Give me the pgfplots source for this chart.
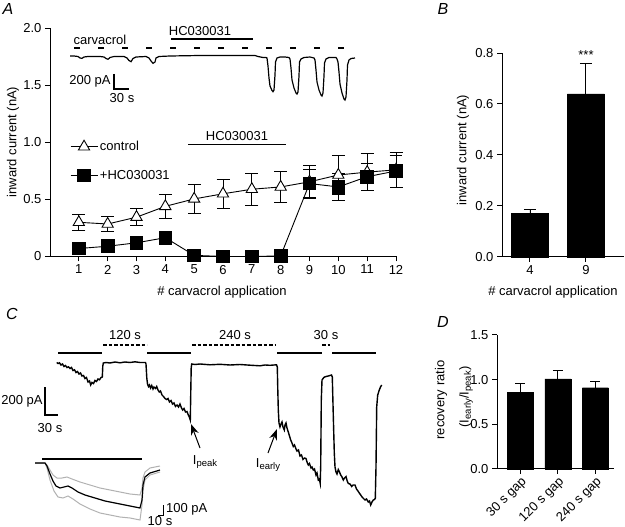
\documentclass[border=0pt]{standalone}
\usepackage{fontspec}
\setmainfont{Liberation Sans}
\usepackage{pgfplots}
\pgfplotsset{compat=1.18}
\usetikzlibrary{arrows.meta}
\newcommand{\fs}{\fontsize{13}{15}\selectfont}
\newcommand{\sub}[1]{\raisebox{-0.35ex}{\fontsize{9.5}{10}\selectfont #1}}
\begin{document}
\begin{tikzpicture}
\pgfplotsset{
 panel/.style={scale only axis, axis x line*=bottom, axis y line*=left, tick align=outside,
   major tick length=5pt, axis line style={line width=1pt, -}, every tick/.style={black, line width=1pt},
   tick label style={font=\fs}, clip=false},
}
\tikzset{lab/.style={font=\fs, inner sep=0pt}}
% ---------------- Panel A ----------------
\begin{axis}[panel, at={(50pt,270.5pt)}, anchor=south west, width=346pt, height=228pt,
  xmin=0, xmax=12, ymin=0, ymax=2,
  xtick={1,2,3,4,5,6,7,8,9,10,11,12}, xticklabels={1,2,3,4,5,6,7,8,9,10,11,12},
  ytick={0,0.5,1,1.5,2}, yticklabels={0,0.5,1.0,1.5,2.0},
  legend style={at={(axis cs:0.69,1.03)}, anchor=north west, draw=none, fill=none, font=\fs,
    row sep=14pt, inner sep=0pt, cells={anchor=west}},
  legend image code/.code={\draw[mark repeat=2,mark phase=2] plot coordinates {(0pt,0pt) (13.5pt,0pt) (27pt,0pt)};}]
\addplot[black, line width=0.9pt, mark=triangle*, mark size=6.5pt, mark options={fill=white, line width=0.9pt},
  error bars/.cd, y dir=both, y explicit, error mark options={rotate=90, mark size=6.5pt, line width=0.9pt},
  error bar style={line width=0.9pt}]
 coordinates {(1,0.30) +- (0,0.07) (2,0.285) +- (0,0.065) (3,0.345) +- (0,0.075) (4,0.44) +- (0,0.105)
  (5,0.505) +- (0,0.13) (6,0.55) +- (0,0.13) (7,0.59) +- (0,0.14) (8,0.61) +- (0,0.14)
  (9,0.655) +- (0,0.145) (10,0.715) +- (0,0.17) (11,0.74) +- (0,0.16) (12,0.76) +- (0,0.15)};
\addlegendentry{control}
\addplot[black, line width=0.9pt, mark=square*, mark size=6.3pt, mark options={fill=black},
  error bars/.cd, y dir=both, y explicit, error mark options={rotate=90, mark size=6.3pt, line width=0.9pt},
  error bar style={line width=0.9pt}]
 coordinates {(1,0.07) +- (0,0.02) (2,0.09) +- (0,0.02) (3,0.12) +- (0,0.03) (4,0.165) +- (0,0.03)
  (5,0.01) +- (0,0.005) (6,0.0) +- (0,0) (7,0.0) +- (0,0) (8,0.005) +- (0,0)
  (9,0.64) +- (0,0.12) (10,0.61) +- (0,0.115) (11,0.70) +- (0,0.12) (12,0.75) +- (0,0.14)};
\addlegendentry{+HC030031}
\draw[line width=1pt] (axis cs:4.79,0.982) -- (axis cs:8.19,0.982);
\end{axis}
% ---------------- Panel B ----------------
\begin{axis}[panel, at={(502pt,270pt)}, anchor=south west, width=122pt, height=204pt,
  xmin=-0.5, xmax=1.68, ymin=0, ymax=0.8,
  xtick={0,1}, xticklabels={4,9},
  ytick={0,0.2,0.4,0.6,0.8}, yticklabels={0.0,0.2,0.4,0.6,0.8}]
\addplot[ybar, bar width=37pt, fill=black, draw=black,
  error bars/.cd, y dir=plus, y explicit, error mark options={rotate=90, mark size=6pt, line width=0.9pt},
  error bar style={line width=0.9pt}]
 coordinates {(0,0.172) +- (0,0.016) (1,0.64) +- (0,0.12)};
\end{axis}
% ---------------- Panel D ----------------
\begin{axis}[panel, at={(497pt,58pt)}, anchor=south west, width=117pt, height=134pt,
  xmin=-0.62, xmax=2.5, ymin=0, ymax=1.5,
  xtick={0,1,2}, xticklabels={30 s gap,120 s gap,240 s gap},
  xticklabel style={rotate=45, anchor=north east, inner sep=1pt},
  ytick={0,0.5,1,1.5}, yticklabels={0.0,0.5,1.0,1.5}]
\addplot[ybar, bar width=26pt, fill=black, draw=black,
  error bars/.cd, y dir=plus, y explicit, error mark options={rotate=90, mark size=5pt, line width=0.9pt},
  error bar style={line width=0.9pt}]
 coordinates {(0,0.86) +- (0,0.10) (1,1.01) +- (0,0.09) (2,0.91) +- (0,0.075)};
\end{axis}
% ---------------- Overlay in pixel coordinates ----------------
\begin{axis}[at={(0pt,0pt)}, anchor=south west, scale only axis, width=625pt, height=527pt,
  xmin=0, xmax=625, ymin=0, ymax=527, y dir=reverse, axis lines=none, ticks=none, clip=false]
% panel letters
\node[font=\fontsize{16}{18}\selectfont\itshape] at (axis cs:8,9) {A};
\node[font=\fontsize{16}{18}\selectfont\itshape] at (axis cs:443,9) {B};
\node[font=\fontsize{16}{18}\selectfont\itshape] at (axis cs:12,314) {C};
\node[font=\fontsize{16}{18}\selectfont\itshape] at (axis cs:443,322) {D};
% axis labels
\node[lab, rotate=90] at (axis cs:13,142) {inward current (nA)};
\node[lab] at (axis cs:222,292) {\# carvacrol application};
\node[lab, rotate=90] at (axis cs:463,150) {inward current (nA)};
\node[lab] at (axis cs:553,292) {\# carvacrol application};
\node[lab] at (axis cs:586,55) {***};
\node[lab, rotate=90] at (axis cs:441,400) {recovery ratio};
\node[lab, rotate=90] at (axis cs:466,397) {(I\sub{early}/I\sub{peak})};
\node[lab] at (axis cs:237,136) {HC030031};
% panel A inset
\node[lab] at (axis cs:100,40) {carvacrol};
\node[lab] at (axis cs:200,31) {HC030031};
\draw[line width=1.5pt] (axis cs:171,39) -- (axis cs:253,39);
\draw[line width=1.8pt, dash pattern=on 6pt off 18pt] (axis cs:74,47.7) -- (axis cs:345,47.7);
\draw[line width=1.2pt] (axis cs:114,74) -- (axis cs:114,89) -- (axis cs:129,89);
\node[lab] at (axis cs:90,81) {200 pA};
\node[lab] at (axis cs:122,98) {30 s};
\addplot[black, line width=1.2pt, no markers] coordinates {
(70,56) (74,56) (78,56.5) (80,58) (82,58.3) (84,57) (88,56.5) (100,56.5) (104,57) (106,58.5) (108,59.3)
(110,57.5) (114,56.5) (124,56.5) (127,58) (129,60.5) (131,61.7) (133,58.5) (136,57) (146,56.5) (149,58)
(151,61) (153,63.3) (155,62) (156,58) (159,56.5) (170,56) (200,55.5) (230,55.5) (255,55.5) (258,56.5)
(263,57.5) (266,57.5)
(267,58) (268,66) (269,78) (270,86) (272,90.5) (273,91.7) (274,90) (275,75) (275.5,62) (277,58) (280,57)
(285,57) (289,57.5)
(290,59) (291,68) (292,80) (294,88) (296,93) (297,94) (298,92) (299,76) (299.5,62) (301,59) (304,57.5)
(310,57) (314,58)
(315,60) (316,70) (317,82) (319,90) (321,95) (322,96) (323,93) (324,76) (324.5,63) (326,59) (329,57.5)
(336,57.5) (337,59)
(338,62) (339,72) (340,84) (342,93) (344,99) (345,100) (346,97) (347,80) (347.5,65) (349,60) (351,58.5) (355,58)};
% panel C bars and labels
\draw[line width=2pt] (axis cs:58,353) -- (axis cs:102,353);
\draw[line width=2pt] (axis cs:147,353) -- (axis cs:191,353);
\draw[line width=2pt] (axis cs:277,353) -- (axis cs:322,353);
\draw[line width=2pt] (axis cs:332,353) -- (axis cs:376,353);
\draw[line width=2pt, dash pattern=on 3.5pt off 2pt] (axis cs:103,345) -- (axis cs:147,345);
\draw[line width=2pt, dash pattern=on 3.5pt off 2pt] (axis cs:192,345) -- (axis cs:276,345);
\draw[line width=2pt, dash pattern=on 3.5pt off 2pt] (axis cs:322,345) -- (axis cs:330,345);
\node[lab] at (axis cs:125,335) {120 s};
\node[lab] at (axis cs:235,335) {240 s};
\node[lab] at (axis cs:326,335) {30 s};
\draw[line width=1.2pt] (axis cs:45,387) -- (axis cs:45,415) -- (axis cs:58,415);
\node[lab] at (axis cs:22,401) {200 pA};
\node[lab] at (axis cs:50,428) {30 s};
\addplot[black, line width=1.4pt, no markers] coordinates {
(56.7,362.5) (58,363.5) (59.5,362.8) (61,365) (62.5,364) (64,366.5) (65.5,365.5) (67,367.5) (68.5,366.8)
(70,368.5) (71.5,367.5) (73,370.5) (74.5,369.8) (76,372.5) (77.5,371.5) (79,374) (80.5,373) (82,376)
(83.5,375.5) (85,378.5) (86.5,377.5) (88,382) (89.5,381) (90.7,385) (92,382.5) (93.5,383.5) (95,380.5)
(96.5,381.5) (98,379) (99.5,379.8) (101,377.5) (102.3,377)
(102.8,366) (103.3,363) (106,362.5) (110,363) (115,362) (120,362.8) (125,362) (130,362.5) (135,361.8)
(140,362.5) (145.5,362.5)
(146,364) (146.8,378) (147.5,384) (148.5,386.5) (149.5,385) (150.5,388) (151.7,385.5) (153,389) (154,387)
(155.5,388.5) (156.7,386.5) (158,390) (159.3,392) (160.5,391) (162,395) (163.5,396.5) (165,398.5)
(166.7,399.5) (168,398.5) (169.5,402) (171,400.5) (172.5,404) (174,403) (175.5,406.5) (177,405) (178.5,407)
(180,404) (181.5,408) (182.7,410) (184,408.5) (185.5,412) (187,411.5) (188.3,415) (189.3,417) (190.3,420)
(190.8,390) (191.2,368) (191.7,364) (195,364.5) (200,364) (210,364.8) (220,364.3) (230,365) (240,364.5)
(250,365.2) (260,365.8) (265,365) (270,365.3) (276.5,364.8)
(277.3,367) (277.8,390) (278.3,410) (279,423) (280,427) (281,424) (282,422) (283,427) (284.3,430) (285,425)
(286,423) (287,428) (288.3,432) (289.5,436) (290.7,440) (292,443) (293.3,446.5) (294.5,445) (296,449)
(297,451) (298.5,450) (300,456) (301.5,455) (303,459.5) (304.5,458) (306,458.5) (307,462) (308.3,465)
(309.5,463.5) (311,468) (312,467) (313.3,470) (314.5,469) (316,475) (317,473) (318.3,480) (319.3,479)
(320.2,483.3)
(320.7,466) (321.3,400) (322,380) (324,377.3) (326,376.5) (328.3,376) (330,375.5) (331.5,375)
(332.3,377) (333.3,416) (334.3,453) (335,467) (336,472) (337,474) (338.3,469.5) (339.5,472) (340.7,475)
(342,477) (343.3,480) (344.5,478) (346,476.5) (347.2,481) (348.3,483.5) (350,484) (351.7,486.5) (353,485)
(355,485) (356.5,489) (358.3,491.5) (360,494) (361.7,496.5) (363,498) (365,500) (366.5,499) (368.3,502)
(369.5,501) (370.7,505) (372,502) (373.3,500) (374.5,499.5) (375.3,498.3)
(376,467) (376.7,407) (377.7,395) (379.3,390) (380.5,387) (381.7,385)};
% arrows
\draw[line width=1pt, -{Stealth[length=11pt,width=8pt]}] (axis cs:200,448) -- (axis cs:191,424);
\draw[line width=1pt, -{Stealth[length=11pt,width=8pt]}] (axis cs:268,453) -- (axis cs:277,429);
\node[lab] at (axis cs:205,462) {I\sub{peak}};
\node[lab] at (axis cs:268,465) {I\sub{early}};
% inset average traces
\draw[line width=2.5pt] (axis cs:42,459) -- (axis cs:142,459);
\addplot[gray!60, line width=1pt, no markers] coordinates {
(35,463) (45,463) (47,465) (50,470) (53,475) (57,478) (62,478) (67,477) (72,479) (80,482) (90,485)
(100,488) (110,490) (120,492) (130,494) (140,495) (142,488) (143,478) (145,472) (150,468) (160,466)};
\addplot[gray!60, line width=1pt, no markers] coordinates {
(35,463) (45,463) (47,468) (50,480) (54,491) (58,497) (63,498) (68,496) (73,499) (80,504) (90,509)
(100,513) (110,515) (120,517) (130,518) (140,520) (142,505) (143,490) (145,480) (150,475) (160,472)};
\addplot[black, line width=1.2pt, no markers] coordinates {
(35,463) (45,463) (47,466) (50,474) (53,481) (56,486) (60,488) (64,487) (68,486) (72,488) (78,492)
(85,495) (95,498) (105,501) (115,503) (125,505) (135,507) (140,508) (142,500) (143,485) (145,477)
(150,473) (160,470)};
\draw[line width=1pt] (axis cs:158,515) -- (axis cs:163,515) -- (axis cs:163,505);
\node[lab, anchor=west] at (axis cs:166,509) {100 pA};
\node[lab] at (axis cs:160,521) {10 s};
\end{axis}
\pgfresetboundingbox
\path[use as bounding box] (0pt,0pt) rectangle (625pt,527pt);
\end{tikzpicture}
\end{document}
